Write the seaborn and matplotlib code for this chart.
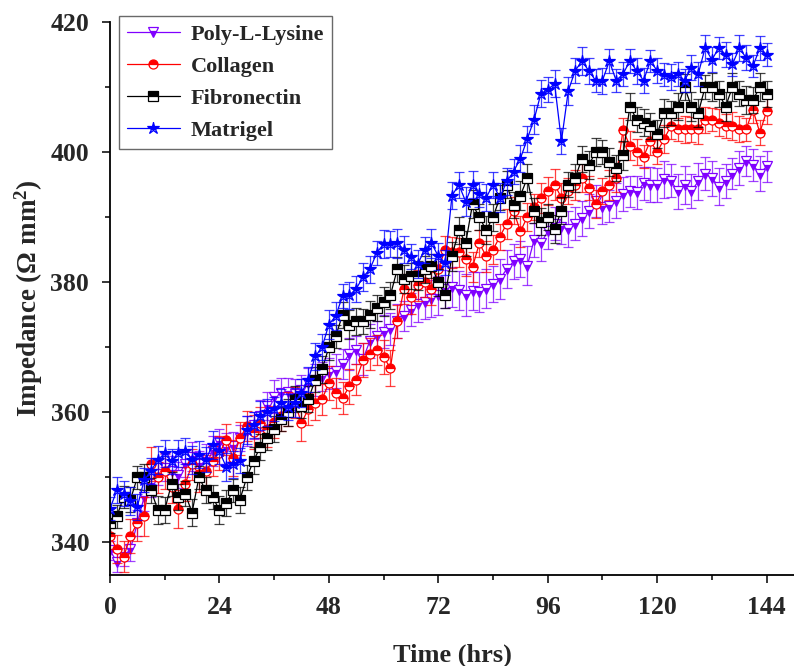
import numpy as np
import pandas as pd
import matplotlib
matplotlib.use('Agg')
import matplotlib.pyplot as plt
import seaborn as sns
from matplotlib.ticker import MultipleLocator

# time points (hrs), one reading every 1.5 h
time_hrs = [i * 1.5 for i in range(97)]

pll = [338.8, 337.0, 337.8, 339.0, 343.0, 347.0, 349.0, 350.6, 351.5, 351.0,
       350.4, 352.0, 353.2, 352.0, 353.0, 354.0, 355.5, 354.5, 354.8, 356.0,
       357.2, 358.0, 359.5, 361.0, 362.4, 363.0, 363.2, 362.8, 363.5, 364.5,
       365.0, 365.5, 366.0, 366.4, 367.4, 369.0, 369.6, 368.2, 371.0, 371.7,
       372.4, 372.8, 374.0, 374.8, 375.8, 376.6, 377.0, 377.5, 378.0, 379.0,
       379.3, 378.8, 378.0, 378.7, 378.5, 379.0, 379.7, 380.5, 382.0, 383.2,
       383.6, 382.5, 386.5, 386.0, 387.8, 389.0, 388.5, 388.2, 389.0, 389.8,
       391.0, 392.5, 391.5, 391.7, 392.5, 393.5, 394.0, 393.8, 395.2, 395.0,
       395.0, 395.8, 395.6, 394.0, 395.0, 394.0, 395.5, 396.7, 396.0, 394.7,
       395.5, 396.7, 397.5, 398.7, 398.0, 396.7, 397.8]
pll_err = [1.5, 1.6, 1.4, 1.8, 2.0, 2.2, 2.0, 1.8, 2.1, 2.3, 2.0, 1.9, 2.2, 2.0,
           2.1, 2.3, 2.0, 2.4, 2.2, 2.0, 2.3, 2.1, 2.4, 2.2, 2.5, 2.3, 2.1, 2.4,
           2.2, 2.3, 2.5, 2.2, 2.4, 2.6, 2.3, 2.5, 2.2, 2.4, 2.6, 2.3, 2.5, 2.4,
           2.6, 2.3, 2.5, 2.7, 2.6, 2.8, 3.0, 2.9, 3.1, 3.0, 3.2, 2.9, 3.1, 3.0,
           2.8, 3.0, 2.9, 2.7, 2.8, 3.0, 2.6, 2.8, 2.7, 2.5, 2.6, 2.8, 2.5, 2.7,
           2.6, 2.4, 2.6, 2.5, 2.7, 2.6, 2.4, 2.6, 2.5, 2.7, 2.6, 2.8, 2.5, 2.7,
           2.9, 2.6, 2.8, 2.5, 2.7, 2.9, 2.6, 2.4, 2.6, 2.3, 2.5, 2.7, 2.4]

collagen = [341.0, 339.0, 337.8, 341.0, 343.0, 344.0, 352.0, 350.0, 351.0, 348.5,
            345.2, 349.0, 352.0, 350.5, 351.0, 352.5, 353.7, 355.8, 353.0, 356.0,
            357.9, 357.0, 358.4, 357.4, 358.5, 359.5, 360.5, 361.5, 358.4, 360.5,
            361.5, 362.0, 364.5, 363.0, 362.2, 364.0, 365.0, 368.0, 369.0, 369.6,
            368.5, 366.8, 374.0, 379.0, 377.7, 379.5, 380.0, 379.0, 382.0, 385.0,
            384.6, 384.6, 383.5, 382.3, 386.0, 384.0, 385.0, 387.0, 389.0, 391.0,
            387.8, 390.0, 391.5, 393.0, 394.0, 395.0, 393.0, 394.0, 395.0, 396.0,
            394.5, 392.0, 394.0, 395.0, 396.0, 403.4, 401.0, 400.0, 399.3, 401.7,
            400.0, 402.0, 404.0, 403.5, 403.5, 403.5, 403.5, 405.0, 405.0, 404.5,
            404.0, 404.0, 403.5, 403.5, 406.5, 403.0, 406.3]
collagen_err = [2.0, 2.2, 2.4, 2.6, 2.8, 3.0, 2.6, 2.4, 2.8, 2.5, 2.9, 2.6, 2.4, 2.7,
                2.5, 2.3, 2.6, 2.4, 2.8, 2.5, 2.3, 2.6, 2.4, 2.7, 2.5, 2.3, 2.6, 2.4,
                2.8, 2.5, 2.7, 2.4, 2.6, 2.3, 2.5, 2.7, 2.4, 2.6, 2.5, 2.3, 2.6, 2.8,
                2.5, 2.3, 2.6, 2.4, 2.2, 2.5, 2.3, 2.1, 2.4, 2.2, 2.5, 2.3, 2.1, 2.4,
                2.2, 2.0, 2.3, 2.1, 2.4, 2.2, 2.0, 2.3, 2.1, 2.4, 2.2, 2.0, 2.3, 2.1,
                1.9, 2.2, 2.0, 2.3, 2.1, 1.9, 2.2, 2.0, 1.8, 2.1, 1.9, 2.2, 2.0, 1.8,
                2.1, 1.9, 2.2, 2.0, 1.8, 2.1, 1.9, 2.2, 2.0, 1.8, 2.1, 1.9, 2.0]

fibronectin = [343.0, 344.0, 347.0, 346.6, 350.0, 350.0, 348.0, 345.0, 345.0, 349.0,
               347.0, 347.5, 344.6, 350.0, 348.0, 347.0, 345.0, 346.0, 348.0, 346.6,
               350.0, 352.6, 354.7, 356.0, 357.5, 359.0, 360.0, 362.0, 361.0, 362.0,
               365.0, 366.6, 370.0, 371.7, 375.0, 373.5, 374.0, 374.0, 375.0, 376.0,
               377.0, 378.0, 382.0, 380.5, 381.0, 381.0, 382.0, 382.5, 380.0, 378.0,
               384.0, 388.0, 386.0, 392.0, 390.0, 388.0, 390.0, 393.0, 395.0, 391.8,
               393.3, 396.0, 391.0, 389.3, 390.0, 388.2, 391.0, 395.0, 396.0, 399.0,
               398.0, 400.0, 400.0, 398.5, 397.5, 399.5, 407.0, 405.0, 404.5, 404.0,
               402.8, 406.0, 406.0, 407.0, 410.0, 407.0, 406.0, 410.0, 410.0, 409.0,
               407.0, 410.0, 409.0, 408.0, 408.0, 410.0, 409.0]
fibronectin_err = [1.6, 1.8, 1.7, 1.9, 1.8, 2.0, 1.9, 2.1, 2.0, 1.8, 2.0, 1.9, 2.1, 1.8,
                   2.0, 1.9, 2.1, 2.0, 1.8, 2.0, 1.9, 2.1, 2.0, 1.8, 2.0, 1.9, 2.1, 2.0,
                   1.8, 2.0, 1.9, 2.1, 2.0, 1.8, 2.0, 2.2, 2.1, 1.9, 2.1, 2.0, 2.2, 2.1,
                   1.9, 2.1, 2.0, 2.2, 2.1, 1.9, 2.1, 2.0, 2.2, 2.1, 1.9, 2.1, 2.0, 2.2,
                   2.1, 1.9, 2.1, 2.0, 2.2, 2.1, 1.9, 2.1, 2.0, 2.2, 2.1, 1.9, 2.1, 2.0,
                   2.2, 2.1, 1.9, 2.1, 2.0, 2.2, 2.1, 1.9, 2.1, 2.0, 2.2, 2.1, 1.9, 2.1,
                   2.0, 2.2, 2.1, 1.9, 2.1, 2.0, 2.2, 2.1, 1.9, 2.1, 2.0, 2.2, 2.0]

matrigel = [345.2, 348.0, 347.5, 346.4, 345.5, 349.6, 351.0, 352.7, 353.7, 352.5,
            353.7, 354.0, 352.7, 353.5, 352.7, 355.0, 354.0, 351.6, 352.0, 352.6,
            357.3, 358.0, 359.5, 360.0, 360.5, 361.5, 360.8, 361.5, 363.0, 365.0,
            368.6, 370.0, 373.5, 374.8, 377.9, 378.0, 379.0, 380.8, 382.0, 384.5,
            385.9, 385.9, 386.0, 385.0, 383.9, 382.8, 385.0, 386.0, 384.0, 383.0,
            393.3, 395.0, 392.4, 395.0, 393.5, 393.0, 395.0, 393.0, 395.5, 397.0,
            399.0, 402.0, 405.0, 409.0, 409.6, 410.5, 401.7, 409.4, 412.5, 414.0,
            412.5, 411.0, 411.0, 414.0, 411.0, 412.0, 414.0, 412.5, 411.0, 414.0,
            412.5, 411.9, 411.5, 412.0, 411.0, 413.0, 412.0, 416.0, 414.2, 416.0,
            415.0, 413.5, 416.0, 414.5, 413.2, 416.0, 415.0]
matrigel_err = [1.8, 2.0, 1.9, 2.1, 2.0, 1.8, 2.0, 2.2, 2.1, 1.9, 2.1, 2.0, 2.2, 2.1,
                1.9, 2.1, 2.0, 2.2, 2.1, 1.9, 2.1, 2.0, 2.2, 2.1, 1.9, 2.1, 2.0, 2.2,
                2.1, 1.9, 2.1, 2.0, 2.2, 2.1, 1.9, 2.1, 2.0, 2.2, 2.1, 1.9, 2.1, 2.0,
                2.2, 2.1, 1.9, 2.1, 2.0, 2.2, 2.1, 1.9, 2.1, 2.0, 2.2, 2.1, 1.9, 2.1,
                2.0, 2.2, 2.1, 1.9, 2.1, 2.0, 2.2, 2.1, 1.9, 2.1, 2.0, 2.2, 1.9, 2.1,
                2.0, 1.8, 2.0, 1.9, 1.7, 1.9, 1.8, 2.0, 1.9, 1.7, 1.9, 1.8, 2.0, 1.9,
                1.7, 1.9, 1.8, 2.0, 1.9, 1.7, 1.9, 1.8, 2.0, 1.9, 1.7, 1.9, 1.8]

series = [
    ('Poly-L-Lysine', pll, pll_err, '#8000ff', 'v', 'bottom'),
    ('Collagen', collagen, collagen_err, '#ff0000', 'o', 'top'),
    ('Fibronectin', fibronectin, fibronectin_err, '#000000', 's', 'top'),
    ('Matrigel', matrigel, matrigel_err, '#0000ff', '*', 'top'),
]

sns.set_style('ticks')
plt.rcParams['font.family'] = ['Liberation Serif', 'DejaVu Serif']
plt.rcParams['font.weight'] = 'bold'
plt.rcParams['mathtext.fontset'] = 'custom'
plt.rcParams['mathtext.rm'] = 'Liberation Serif:bold'
plt.rcParams['mathtext.bf'] = 'Liberation Serif:bold'
plt.rcParams['mathtext.it'] = 'Liberation Serif:bold'

fig = plt.figure(figsize=(7.94, 6.66), dpi=100)
ax = fig.add_axes([0.1385, 0.1366, 0.8615, 0.8304])

for name, vals, err, col, mk, fs in series:
    df = pd.DataFrame({'t': time_hrs, 'z': vals})
    ax.errorbar(df['t'], df['z'], yerr=err, fmt='none', ecolor=col,
                elinewidth=0.9, capsize=3.5, capthick=0.9, alpha=0.75)
    ms = 9 if mk == '*' else 6.5
    sns.lineplot(data=df, x='t', y='z', ax=ax, color=col, lw=0.9,
                 marker=mk, markersize=ms, fillstyle=fs,
                 markerfacecolor=col, markerfacecoloralt='white',
                 markeredgecolor=col, markeredgewidth=0.9, label=name)

ax.set_xlim(0, 150)
ax.set_ylim(335, 420)
ax.xaxis.set_major_locator(MultipleLocator(24))
ax.xaxis.set_minor_locator(MultipleLocator(12))
ax.yaxis.set_major_locator(MultipleLocator(20))
ax.yaxis.set_minor_locator(MultipleLocator(10))
ax.tick_params(which='major', direction='out', length=6, width=1.3,
               labelsize=18.5, pad=9)
ax.tick_params(which='minor', direction='out', length=3.5, width=1.3)
for lab in ax.get_xticklabels() + ax.get_yticklabels():
    lab.set_fontweight('bold')

sns.despine(ax=ax)
for s in ['left', 'bottom']:
    ax.spines[s].set_linewidth(1.3)
    ax.spines[s].set_color('black')

ax.set_xlabel('Time (hrs)', fontsize=19, fontweight='bold', labelpad=18)
ax.set_ylabel('Impedance (Ω mm$^{2}$)', fontsize=19.5, fontweight='bold',
              labelpad=4)

leg = ax.legend(loc='upper left', bbox_to_anchor=(0.0, 1.026), frameon=True,
                fancybox=False, edgecolor='#444444', fontsize=16,
                handlelength=2.4, borderpad=0.35, labelspacing=0.52,
                handletextpad=0.5, borderaxespad=0.4)
leg.get_frame().set_linewidth(1.0)
for t in leg.get_texts():
    t.set_fontweight('bold')

fig.savefig('out.png', dpi=100)
